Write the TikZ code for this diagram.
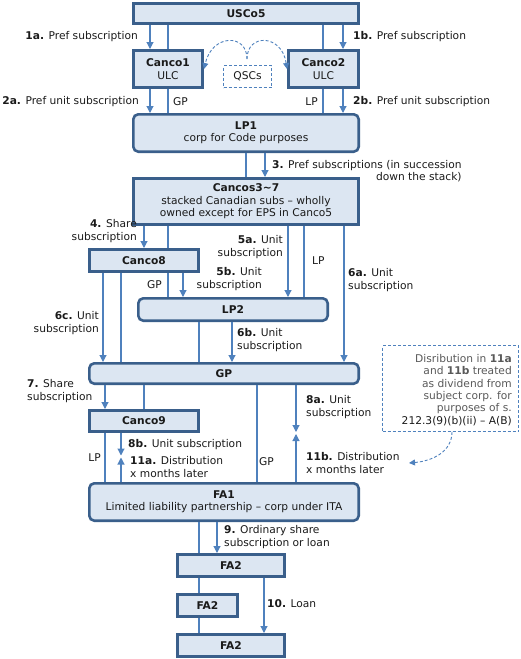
\documentclass[tikz,border=0pt]{standalone}
\usepackage{fontspec}
\setmainfont{DejaVu Sans}
\usetikzlibrary{arrows.meta}
\definecolor{bfill}{HTML}{DCE6F2}
\definecolor{bdraw}{HTML}{3A5F8B}
\definecolor{arrc}{HTML}{4F81BD}
\definecolor{txt}{HTML}{1A1A1A}
\definecolor{notetxt}{HTML}{595959}
\begin{document}
\begin{tikzpicture}[x=1pt,y=-1pt,
  font=\fontsize{10.67}{12.4}\selectfont,
  box/.style={draw=bdraw, fill=bfill, line width=2.6pt, inner sep=0pt, align=center, text=txt},
  rbox/.style={box, rounded corners=5pt},
  ln/.style={draw=arrc, line width=1.1pt},
  arr/.style={ln, -{Triangle[length=7pt,width=7pt]}},
  darr/.style={draw=arrc, line width=0.9pt, dash pattern=on 3pt off 2pt, -{Triangle[length=6pt,width=6pt]}},
  lbl/.style={inner sep=0pt, text=txt},
]
\useasboundingbox (0,0) rectangle (521,659);

% column coordinates
\foreach \c in {103,105,121,144,150,168,183,199,217,232,246,257,264,265,288,296,304,323,343,344,452}
  \coordinate (x\c) at (\c,0);

% boxes
\node[box, minimum width=225.4pt, minimum height=20.4pt] (usco) at (246,13.5) {\textbf{USCo5}};
\node[box, minimum width=69.4pt, minimum height=37.4pt] (canco1) at (168,69) {\textbf{Canco1}\\ULC};
\node[box, minimum width=70.4pt, minimum height=37.4pt] (canco2) at (323.5,69) {\textbf{Canco2}\\ULC};
\node[draw=arrc, line width=0.9pt, dash pattern=on 3pt off 2pt, minimum width=48pt, minimum height=22pt, inner sep=0pt, text=txt] (qsc) at (247.5,76.5) {QSCs};
\node[rbox, minimum width=225.4pt, minimum height=37.4pt] (lp1) at (246,133) {\textbf{LP1}\\corp for Code purposes};
\node[box, minimum width=225.4pt, minimum height=46.4pt] (cancos) at (246,201.5) {\textbf{Cancos3\textasciitilde 7}\\stacked Canadian subs – wholly\\owned except for EPS in Canco5};
\node[box, minimum width=109.4pt, minimum height=22.4pt] (canco8) at (144,260.5) {\textbf{Canco8}};
\node[rbox, minimum width=189.4pt, minimum height=22.4pt] (lp2) at (233,309.5) {\textbf{LP2}};
\node[rbox, minimum width=269.4pt, minimum height=20.4pt] (gp) at (224,373.5) {\textbf{GP}};
\node[box, minimum width=109.4pt, minimum height=21.4pt] (canco9) at (144,421) {\textbf{Canco9}};
\node[rbox, minimum width=269.4pt, minimum height=37.4pt] (fa1) at (224,502) {\textbf{FA1}\\Limited liability partnership – corp under ITA};
\node[box, minimum width=107.4pt, minimum height=22.4pt] (fa2a) at (231,565.5) {\textbf{FA2}};
\node[box, minimum width=60.4pt, minimum height=22.4pt] (fa2b) at (207.5,605.5) {\textbf{FA2}};
\node[box, minimum width=107.4pt, minimum height=22.4pt] (fa2c) at (231,645.5) {\textbf{FA2}};
\node[draw=arrc, line width=0.9pt, dash pattern=on 3pt off 2pt, minimum width=136pt, minimum height=86pt, inner sep=0pt] (note) at (450.5,388.5) {};
\node[lbl, anchor=east, align=right, text=notetxt] (notetext) at (512,390)
  {Disribution in \textbf{11a}\\and \textbf{11b} treated\\as dividend from\\subject corp. for\\purposes of s.\\\textcolor{txt}{212.3(9)(b)(ii) – A(B)}};

% QSC dashed arcs
\coordinate (qv) at (247,59);
\draw[darr] (qv) .. controls (247,33) and (212,34) .. (canco1.east);
\draw[darr] (qv) .. controls (247,33) and (282,34) .. (canco2.west);

% USCo5 -> Canco1/2
\draw[arr] (x150 |- usco.south) -- (x150 |- canco1.north);
\draw[ln]  (x168 |- usco.south) -- (x168 |- canco1.north);
\draw[ln]  (x323 |- usco.south) -- (x323 |- canco2.north);
\draw[arr] (x343 |- usco.south) -- (x343 |- canco2.north);
% Canco1/2 -> LP1
\draw[arr] (x150 |- canco1.south) -- (x150 |- lp1.north);
\draw[ln]  (x168 |- canco1.south) -- (x168 |- lp1.north);
\draw[ln]  (x323 |- canco2.south) -- (x323 |- lp1.north);
\draw[arr] (x343 |- canco2.south) -- (x343 |- lp1.north);
% LP1 -> Cancos
\draw[ln]  (x246 |- lp1.south) -- (x246 |- cancos.north);
\draw[arr] (x265 |- lp1.south) -- (x265 |- cancos.north);
% Cancos -> Canco8, LP2, GP
\draw[arr] (x144 |- cancos.south) -- (x144 |- canco8.north);
\draw[ln]  (x168 |- cancos.south) -- (x168 |- canco8.north);
\draw[arr] (x288 |- cancos.south) -- (x288 |- lp2.north);
\draw[ln]  (x304 |- cancos.south) -- (x304 |- lp2.north);
\draw[arr] (x344 |- cancos.south) -- (x344 |- gp.north);
% Canco8 -> GP, LP2
\draw[arr] (x103 |- canco8.south) -- (x103 |- gp.north);
\draw[ln]  (x121 |- canco8.south) -- (x121 |- gp.north);
\draw[ln]  (x168 |- canco8.south) -- (x168 |- lp2.north);
\draw[arr] (x183 |- canco8.south) -- (x183 |- lp2.north);
% LP2 -> GP
\draw[ln]  (x199 |- lp2.south) -- (x199 |- gp.north);
\draw[arr] (x232 |- lp2.south) -- (x232 |- gp.north);
% GP -> Canco9, FA1
\draw[arr] (x105 |- gp.south) -- (x105 |- canco9.north);
\draw[ln]  (x144 |- gp.south) -- (x144 |- canco9.north);
\draw[ln]  (x257 |- gp.south) -- (x257 |- fa1.north);
\coordinate (m8a) at (296,432);
\coordinate (m11b) at (296,434);
\draw[arr] (x296 |- gp.south) -- (m8a);
\draw[arr] (x296 |- fa1.north) -- (m11b);
% Canco9 -> FA1
\draw[ln]  (x105 |- canco9.south) -- (x105 |- fa1.north);
\coordinate (m8b) at (121,455.5);
\coordinate (m11a) at (121,457.5);
\draw[arr] (x121 |- canco9.south) -- (m8b);
\draw[arr] (x121 |- fa1.north) -- (m11a);
% FA1 -> FA2s
\draw[ln]  (x199 |- fa1.south) -- (x199 |- fa2a.north);
\draw[arr] (x217 |- fa1.south) -- (x217 |- fa2a.north);
\draw[ln]  (x199 |- fa2a.south) -- (x199 |- fa2b.north);
\draw[arr] (x264 |- fa2a.south) -- (x264 |- fa2c.north);
\draw[ln]  (x199 |- fa2b.south) -- (x199 |- fa2c.north);
% note arrow
\coordinate (nt) at (409,463);
\draw[darr] (x452 |- note.south) .. controls (452,452) and (432,461) .. (nt);

% labels
\node[lbl, anchor=east] (l1a) at (138,37) {\textbf{1a.} Pref subscription};
\node[lbl, anchor=west] (l1b) at (353,37) {\textbf{1b.} Pref subscription};
\node[lbl, anchor=east] (l2a) at (139,102) {\textbf{2a.} Pref unit subscription};
\node[lbl, anchor=west] (lgp1) at (173,102) {GP};
\node[lbl, anchor=east] (llp1) at (318,102) {LP};
\node[lbl, anchor=west] (l2b) at (353,102) {\textbf{2b.} Pref unit subscription};
\node[lbl, anchor=west, align=right] (l3) at (272,171) {\textbf{3.} Pref subscriptions (in succession\\down the stack)};
\node[lbl, anchor=east, align=right] (l4) at (137,231) {\textbf{4.} Share\\subscription};
\node[lbl, anchor=east, align=right] (l5a) at (283,247) {\textbf{5a.} Unit\\subscription};
\node[lbl, anchor=west] (llp2) at (312,261) {LP};
\node[lbl, anchor=west, align=left] (l6a) at (348,280) {\textbf{6a.} Unit\\subscription};
\node[lbl, anchor=east] (lgp2) at (162,285) {GP};
\node[lbl, anchor=east, align=right] (l5b) at (262,279) {\textbf{5b.} Unit\\subscription};
\node[lbl, anchor=east, align=right] (l6c) at (99,323) {\textbf{6c.} Unit\\subscription};
\node[lbl, anchor=west, align=left] (l6b) at (237,340) {\textbf{6b.} Unit\\subscription};
\node[lbl, anchor=west, align=left] (l7) at (27,391) {\textbf{7.} Share\\subscription};
\node[lbl, anchor=west] (lgp3) at (259,462) {GP};
\node[lbl, anchor=west, align=left] (l8a) at (306,407) {\textbf{8a.} Unit\\subscription};
\node[lbl, anchor=west, align=left] (l11b) at (306,463) {\textbf{11b.} Distribution\\x months later};
\node[lbl, anchor=east] (llp3) at (101,458) {LP};
\node[lbl, anchor=west] (l8b) at (128,445) {\textbf{8b.} Unit subscription};
\node[lbl, anchor=west, align=left] (l11a) at (130,467) {\textbf{11a.} Distribution\\x months later};
\node[lbl, anchor=west, align=left] (l9) at (224,537) {\textbf{9.} Ordinary share\\subscription or loan};
\node[lbl, anchor=west] (l10) at (267,604) {\textbf{10.} Loan};
\end{tikzpicture}
\end{document}
